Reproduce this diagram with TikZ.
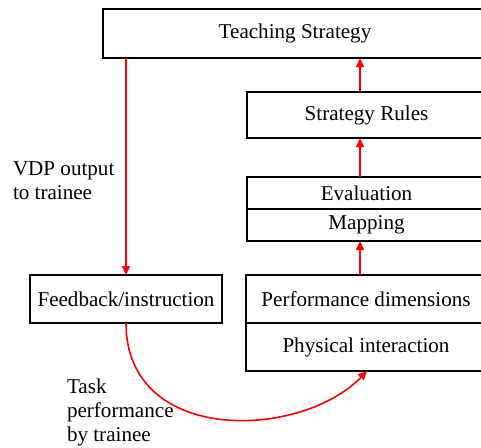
\documentclass[tikz,border=0pt]{standalone}
\usepackage{fontspec}
\setmainfont{Liberation Serif}
\usetikzlibrary{arrows.meta}
\tikzset{
  box/.style={draw=black, line width=1pt, rectangle, inner sep=0pt, outer sep=0pt,
    font=\fontsize{10.55}{12}\selectfont},
  flow/.style={draw=red, line width=0.8pt, -{Triangle[length=4.5pt,width=4pt]}},
  lbl/.style={inner sep=0pt, outer sep=0pt, align=left, anchor=base west,
    font=\fontsize{10.55}{12}\selectfont}
}
\begin{document}
\begin{tikzpicture}[x=0.5pt, y=-0.5pt]
\useasboundingbox (0,0) rectangle (481,447);
\clip (0,0) rectangle (481,447);

% boxes
\node[box, minimum width=192pt, minimum height=24.5pt] (ts) at (295,33.5) {Teaching Strategy};
\node[box, minimum width=119.5pt, minimum height=23pt] (sr) at (366.5,115) {Strategy Rules};
\node[box, minimum width=119.5pt, minimum height=16pt] (ev) at (366.5,193) {Evaluation};
\node[box, minimum width=119.5pt, minimum height=16pt] (mp) at (366.5,225) {Mapping};
\node[box, minimum width=120pt, minimum height=24pt] (pd) at (366,299) {Performance dimensions};
\node[box, minimum width=120pt, minimum height=24pt] (pi) at (366,347) {Physical interaction};
\node[box, minimum width=96pt, minimum height=24pt] (fb) at (126,299) {Feedback/instruction};

% labels (anchored at the baseline of their last line)
\node[lbl] (vdp) at (13,199.5) {VDP output\\to trainee};
\node[lbl] (task) at (67,441) {Task\\performance\\by trainee};

% connector x positions
\coordinate (ax) at (360,0);
\coordinate (cx) at (367,0);

% connectors
\draw[flow] (ts.south -| fb.north) -- (fb.north);
\draw[flow] (pd.north -| ax) -- (mp.south -| ax);
\draw[flow] (ev.north -| ax) -- (sr.south -| ax);
\draw[flow] (sr.north -| ax) -- (ts.south -| ax);
\draw[flow] (fb.south) .. controls (126,445) and (300,440) .. (pi.south -| cx);
\end{tikzpicture}
\end{document}
